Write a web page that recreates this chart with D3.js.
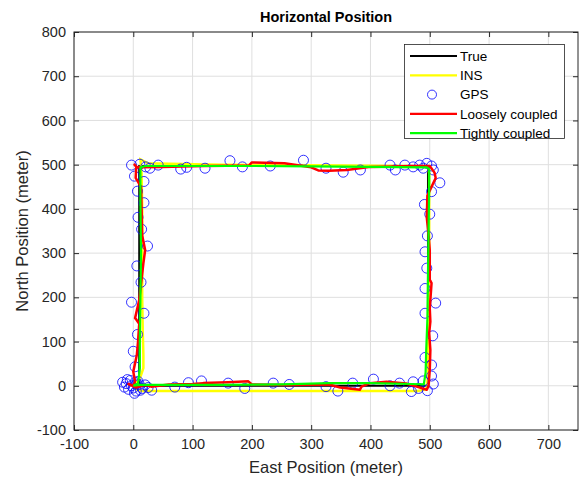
<!DOCTYPE html>
<html>
<head>
<meta charset="utf-8">
<script src="https://cdn.jsdelivr.net/npm/d3@7"></script>
<style>
  html, body { margin: 0; padding: 0; background: #fff; }
  svg { display: block; font-family: "Liberation Sans", Arial, Helvetica, sans-serif; }
</style>
</head>
<body>
<svg id="chart" width="581" height="477"></svg>
<script>
// ---------- DATA ----------
const xTicks = [-100, 0, 100, 200, 300, 400, 500, 600, 700];
const yTicks = [-100, 0, 100, 200, 300, 400, 500, 600, 700, 800];

const truePath = [[10,0],[497,0],[497,497],[10,497],[10,0]];

const insPath = [[0,0],[5,-8],[15,-12],[100,-12],[200,-12],[300,-12],[400,-12],[480,-12],[494,-8],
  [497,20],[497,100],[498,200],[499,300],[499,400],[499,480],[497,496],[450,497],[350,498],[250,499],
  [150,500],[60,502],[25,503],[12,512],[14,480],[15,400],[15,300],[15,200],[16,120],[17,70],[17,40],[12,20],[5,5]];

const gpsPoints = [[-12,5],[-8,-8],[-5,12],[0,-5],[3,8],[-15,-3],[5,-12],[10,3],[15,-6],[-3,0],[8,10],
  [20,2],[-10,14],[2,-17],[12,-10],[25,-4],[-18,8],[6,4],[31,-10],
  [70,-3],[93,7],[115,11],[160,6],[188,-6],[236,6],[263,3],[325,-2],[345,-12],[370,6],[405,15],[433,0],
  [449,6],[469,-13],[472,9],[481,-6],[489,11],[496,-11],[506,4],[503,22],[503,47],[492,64],[505,113],
  [492,164],[510,187],[492,220],[495,266],[492,303],[496,339],[500,388],[491,410],[503,439],[517,459],
  [506,488],[503,497],[495,503],[489,492],[483,499],[472,495],[458,499],[442,488],[433,499],[383,488],
  [354,483],[325,492],[287,510],[231,497],[184,495],[163,509],[121,492],[90,494],[80,490],[42,499],
  [28,492],[21,495],[11,501],[-3,499],[2,474],[18,462],[7,440],[18,414],[8,381],[14,354],[24,316],
  [6,271],[13,234],[-3,189],[18,164],[7,116],[0,78],[3,43]];

const loosePath = [[0,0],[-8,4],[5,-4],[20,2],[30,-2],[60,3],[100,4],[118,6],[160,8],[194,10],[200,3],
  [260,2],[330,3],[349,-4],[382,-9],[385,-2],[399,6],[427,9],[460,5],[478,-2],[495,-9],[498,0],[500,36],
  [501,81],[499,119],[501,145],[500,175],[503,232],[500,240],[500,307],[498,340],[495,380],[496,430],
  [510,470],[508,482],[500,497],[470,497],[440,496],[400,495],[360,488],[330,486],[312,487],[300,494],
  [255,503],[200,505],[195,498],[120,497],[48,495],[6,494],[2,500],[5,496],[4,470],[13,450],[14,400],
  [15,340],[20,307],[17,277],[10,194],[3,153],[5,150],[10,140],[8,100],[6,70],[0,32],[3,10],[0,0]];

const tightPath = [[0,0],[10,2],[50,2],[150,2],[250,3],[330,6],[400,6],[470,4],[490,3],[493,30],[494,80],
  [496,150],[497,250],[498,350],[499,450],[499,490],[495,494],[400,495],[300,496],[200,497],[100,497],
  [20,497],[12,494],[12,420],[13,300],[12,200],[11,100],[11,40],[8,5],[0,0]];

const legendItems = [
  {label: "True", type: "line", color: "#000000"},
  {label: "INS", type: "line", color: "#ffff00"},
  {label: "GPS", type: "circle", color: "#0000ff"},
  {label: "Loosely coupled", type: "line", color: "#ff0000"},
  {label: "Tightly coupled", type: "line", color: "#00ff00"}
];

// ---------- LAYOUT ----------
const L = 74, R = 578, T = 32, B = 430;
const svg = d3.select("#chart");
const x = d3.scaleLinear().domain([-100, 750]).range([L, R]);
const y = d3.scaleLinear().domain([-100, 800]).range([B, T]);
const axisColor = "#262626";
const fmt = d => String(d);

// grid
const grid = svg.append("g");
grid.selectAll("line.gx").data(xTicks).join("line")
  .attr("x1", d => x(d)).attr("x2", d => x(d)).attr("y1", T).attr("y2", B)
  .attr("stroke", "#dfdfdf").attr("stroke-width", 1);
grid.selectAll("line.gy").data(yTicks).join("line")
  .attr("x1", L).attr("x2", R).attr("y1", d => y(d)).attr("y2", d => y(d))
  .attr("stroke", "#dfdfdf").attr("stroke-width", 1);

// clip
svg.append("defs").append("clipPath").attr("id", "clip")
  .append("rect").attr("x", L).attr("y", T).attr("width", R - L).attr("height", B - T);
const plot = svg.append("g").attr("clip-path", "url(#clip)");

const line = d3.line().x(d => x(d[0])).y(d => y(d[1]));

plot.append("path").datum(truePath).attr("d", line)
  .attr("fill", "none").attr("stroke", "#000").attr("stroke-width", 2);
plot.append("path").datum(insPath).attr("d", line)
  .attr("fill", "none").attr("stroke", "#ffff00").attr("stroke-width", 2.5);
plot.selectAll("circle.gps").data(gpsPoints).join("circle")
  .attr("cx", d => x(d[0])).attr("cy", d => y(d[1])).attr("r", 5)
  .attr("fill", "none").attr("stroke", "#0000ff").attr("stroke-width", 0.8);
plot.append("path").datum(loosePath).attr("d", line)
  .attr("fill", "none").attr("stroke", "#ff0000").attr("stroke-width", 2.5)
  .attr("stroke-linejoin", "round");
plot.append("path").datum(tightPath).attr("d", line)
  .attr("fill", "none").attr("stroke", "#00ff00").attr("stroke-width", 2.2)
  .attr("stroke-linejoin", "round");

// axes
function styleAxis(g) {
  g.select(".domain").remove();
  g.selectAll(".tick line").attr("stroke", axisColor);
  g.selectAll(".tick text").attr("fill", axisColor).style("font-size", "14.5px")
    .style("font-family", '"Liberation Sans", Arial, sans-serif');
}
svg.append("g").attr("transform", `translate(0,${B})`)
  .call(d3.axisBottom(x).tickValues(xTicks).tickFormat(fmt).tickSizeInner(-5).tickSizeOuter(0).tickPadding(9))
  .call(styleAxis);
svg.append("g").attr("transform", `translate(${L},0)`)
  .call(d3.axisLeft(y).tickValues(yTicks).tickFormat(fmt).tickSizeInner(-5).tickSizeOuter(0).tickPadding(8))
  .call(styleAxis);
svg.append("g").attr("transform", `translate(0,${T})`)
  .call(d3.axisTop(x).tickValues(xTicks).tickSizeInner(-5).tickSizeOuter(0).tickFormat(""))
  .call(styleAxis);
svg.append("g").attr("transform", `translate(${R},0)`)
  .call(d3.axisRight(y).tickValues(yTicks).tickSizeInner(-5).tickSizeOuter(0).tickFormat(""))
  .call(styleAxis);

// box
svg.append("rect").attr("x", L).attr("y", T).attr("width", R - L).attr("height", B - T)
  .attr("fill", "none").attr("stroke", axisColor).attr("stroke-width", 1);

// title & labels
svg.append("text").attr("x", (L + R) / 2).attr("y", 22).attr("text-anchor", "middle")
  .style("font-size", "14.5px").style("font-weight", "bold").attr("fill", "#000")
  .text("Horizontal Position");
svg.append("text").attr("x", (L + R) / 2).attr("y", 473).attr("text-anchor", "middle")
  .style("font-size", "16.5px").attr("fill", axisColor).text("East Position (meter)");
svg.append("text").attr("transform", `translate(28,${(T + B) / 2}) rotate(-90)`)
  .attr("text-anchor", "middle").style("font-size", "16.5px").attr("fill", axisColor)
  .text("North Position (meter)");

// legend
const lg = svg.append("g");
lg.append("rect").attr("x", 404.5).attr("y", 44.5).attr("width", 160).attr("height", 94)
  .attr("fill", "#fff").attr("stroke", axisColor).attr("stroke-width", 0.8);
const rows = lg.selectAll("g.row").data(legendItems).join("g")
  .attr("transform", (d, i) => `translate(0,${56 + i * 19.3})`);
rows.filter(d => d.type === "line").append("line")
  .attr("x1", 410).attr("x2", 457).attr("y1", 0).attr("y2", 0)
  .attr("stroke", d => d.color).attr("stroke-width", 2.2);
rows.filter(d => d.type === "circle").append("circle")
  .attr("cx", 432).attr("cy", 0).attr("r", 4.5)
  .attr("fill", "none").attr("stroke", d => d.color).attr("stroke-width", 0.8);
rows.append("text").attr("x", 460).attr("y", 0).attr("dy", "0.35em")
  .style("font-size", "13.5px").attr("fill", "#000").text(d => d.label);
</script>
</body>
</html>
